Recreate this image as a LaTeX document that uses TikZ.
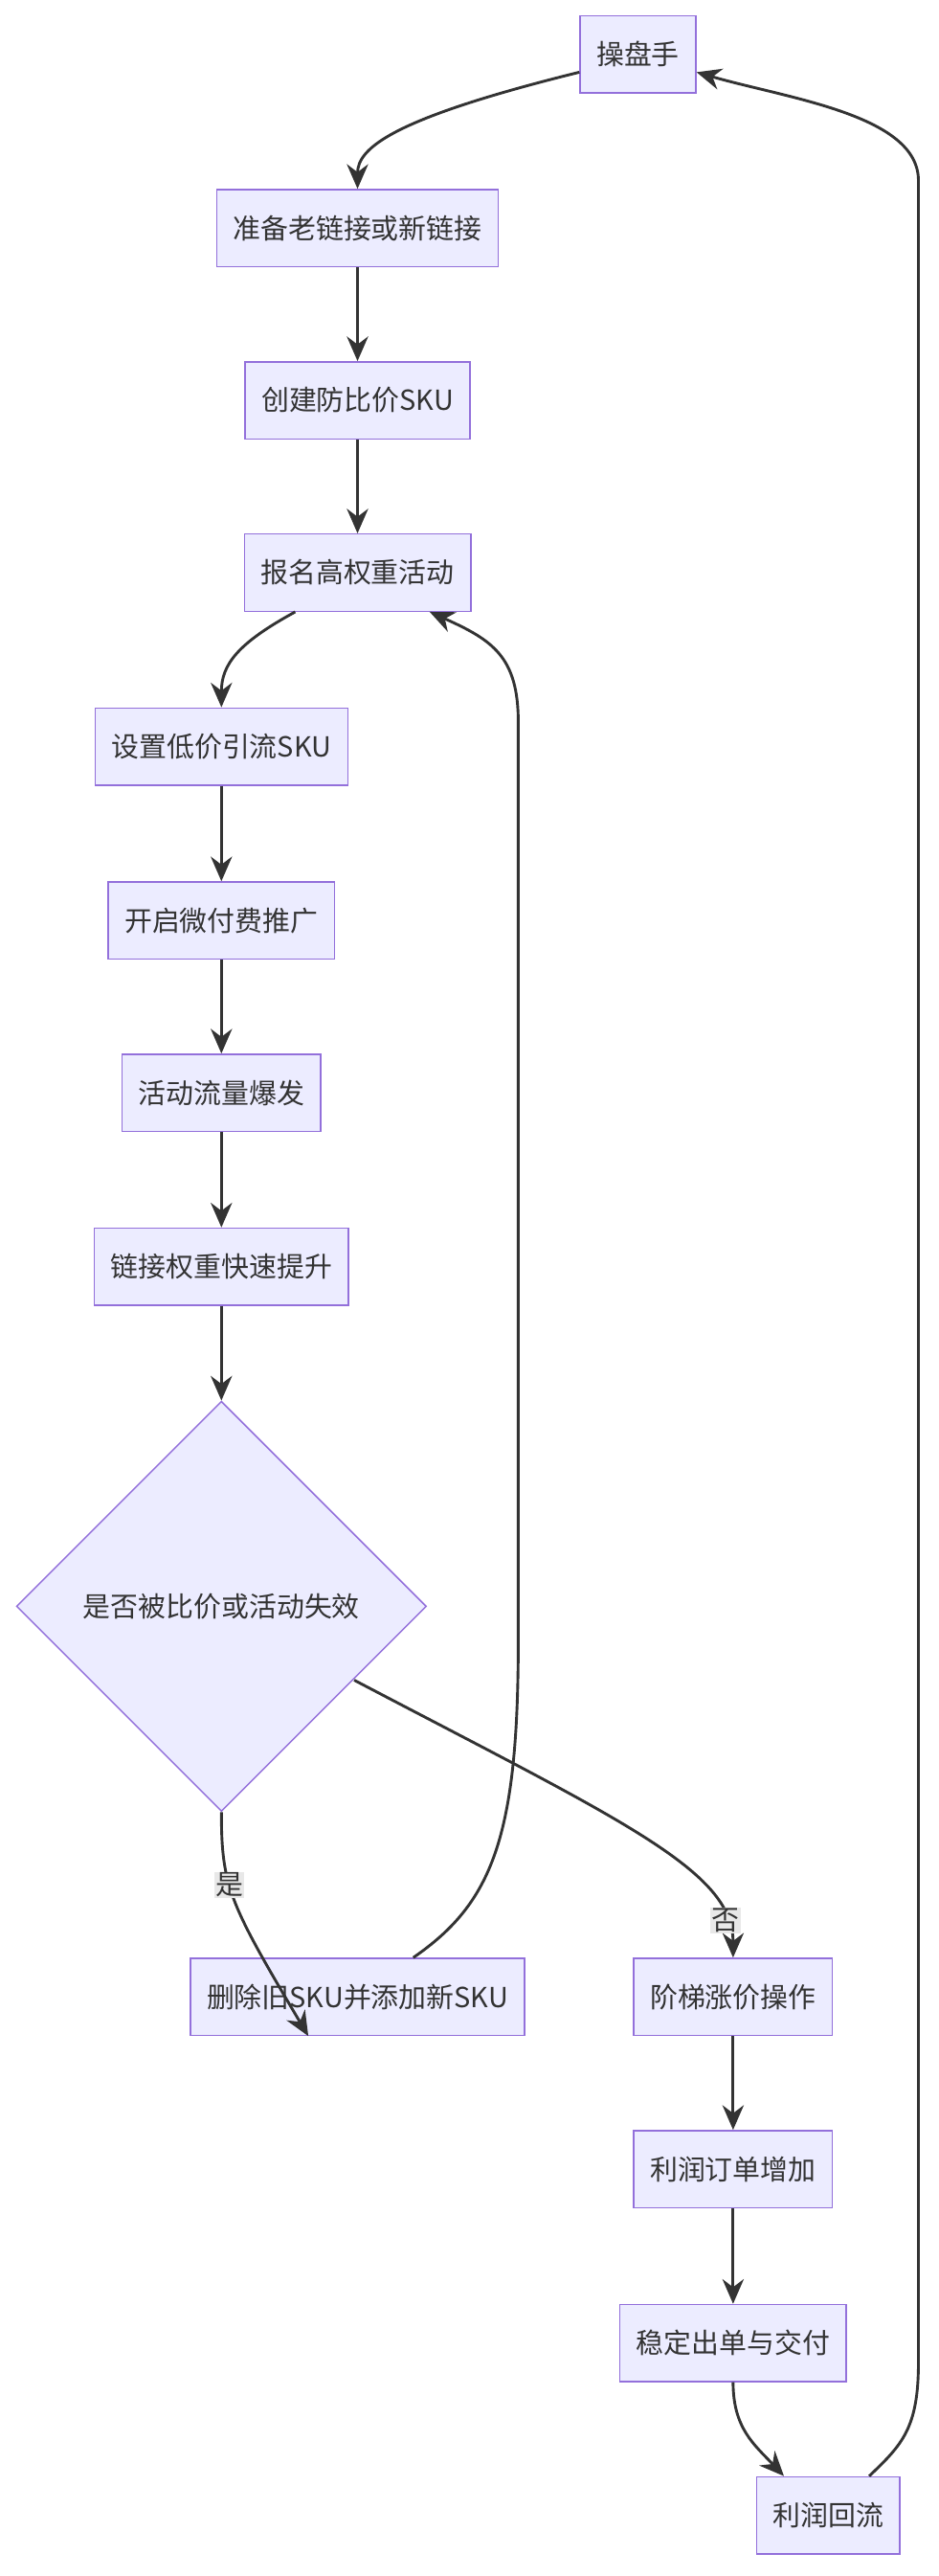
\documentclass[tikz,border=0pt]{standalone}
\usepackage{fontspec}
\setmainfont{Noto Sans CJK SC}
\usetikzlibrary{shapes.geometric,arrows.meta}
\definecolor{boxfill}{HTML}{ECECFF}
\definecolor{boxline}{HTML}{9370DB}
\definecolor{edgeline}{HTML}{333333}
\tikzset{
    stepbox/.style={rectangle, draw=boxline, fill=boxfill, line width=1.2pt,
        inner xsep=0.5cm, minimum height=2.35cm, font=\fontsize{24}{28}\selectfont,
        text=edgeline},
    check/.style={diamond, draw=boxline, fill=boxfill, line width=1.2pt,
        minimum width=12.5cm, minimum height=12.5cm, inner sep=0pt,
        font=\fontsize{24}{28}\selectfont, text=edgeline},
    flow/.style={draw=edgeline, line width=2.4pt, -{Stealth[length=0.75cm,width=0.65cm]}},
    tag/.style={fill=gray!18, inner sep=1pt, font=\fontsize{24}{28}\selectfont, text=edgeline}
}
\begin{document}
\begin{tikzpicture}[x=0.05cm, y=-0.05cm]
    \useasboundingbox[fill=white] (0,0) rectangle (572,1570);

    \node[stepbox] (boss) at (389,33) {操盘手};
    \node[stepbox] (prep) at (218,139) {准备老链接或新链接};
    \node[stepbox] (sku) at (218,244) {创建防比价SKU};
    \node[stepbox] (event) at (218,349) {报名高权重活动};
    \node[stepbox] (low) at (135,455) {设置低价引流SKU};
    \node[stepbox] (promo) at (135,561) {开启微付费推广};
    \node[stepbox] (burst) at (135,666) {活动流量爆发};
    \node[stepbox] (rank) at (135,772) {链接权重快速提升};
    \node[check] (fail) at (135,979) {是否被比价或活动失效};
    \node[stepbox] (swap) at (218,1217) {删除旧SKU并添加新SKU};
    \node[stepbox] (raise) at (447,1217) {阶梯涨价操作};
    \node[stepbox] (orders) at (447,1322) {利润订单增加};
    \node[stepbox] (stable) at (447,1428) {稳定出单与交付};
    \node[stepbox] (back) at (505,1533) {利润回流};

    \draw[flow] (boss.west |- 0,44) .. controls (240,72) and (218,90) .. (prep.north);
    \draw[flow] (prep) -- (sku);
    \draw[flow] (sku) -- (event);
    \draw[flow] (event.south -| 180,0) .. controls (145,392) and (135,405) .. (low.north);
    \draw[flow] (low) -- (promo);
    \draw[flow] (promo) -- (burst);
    \draw[flow] (burst) -- (rank);
    \draw[flow] (rank) .. controls (135,815) and (135,830) .. (fail.north);
    \draw[flow] (fail.south) .. controls (135,1150) and (140,1160) .. (swap.south west -| 188,0)
        node[tag, pos=0.4] {是};
    \coordinate (fo) at (216,1024);
    \draw[flow] (fo) .. controls (380,1110) and (447,1140) .. (raise.north)
        node[tag, pos=0.85] {否};
    \draw[flow] (swap.north -| 252,0) .. controls (300,1160) and (316,1120) .. (316,1000)
        -- (316,440) .. controls (316,400) and (300,390) .. (event.south -| 262,0);
    \draw[flow] (raise) -- (orders);
    \draw[flow] (orders) -- (stable);
    \draw[flow] (stable.south) .. controls (447,1480) and (460,1490) .. (back.north west -| 478,0);
    \draw[flow] (back.north -| 530,0) .. controls (550,1490) and (560,1480) .. (560,1440)
        -- (560,110) .. controls (560,70) and (480,60) .. (boss.east |- 0,44);
\end{tikzpicture}
\end{document}
